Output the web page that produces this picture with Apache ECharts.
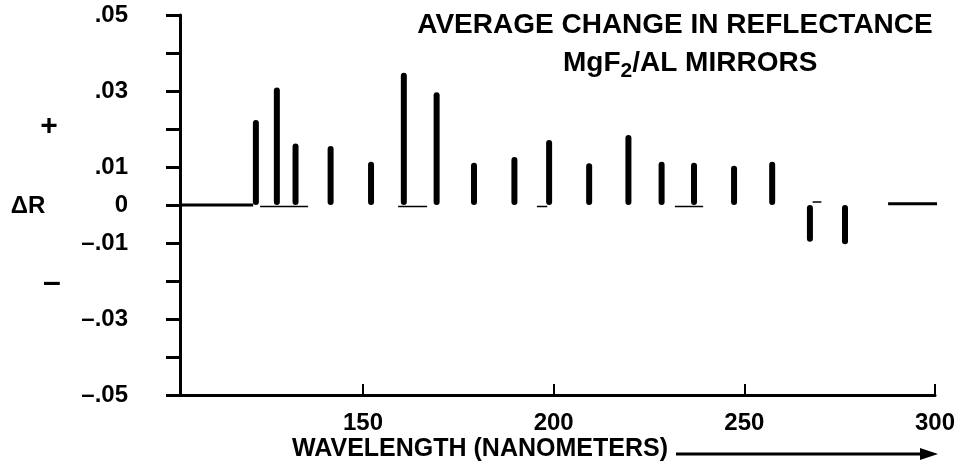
<!DOCTYPE html>
<html>
<head>
<meta charset="utf-8">
<script src="https://cdn.jsdelivr.net/npm/echarts@6/dist/echarts.min.js"></script>
<style>
  html, body { margin: 0; padding: 0; background: #fff; }
  #main { width: 962px; height: 475px; }
</style>
</head>
<body>
<div id="main"></div>
<script>
// wavelength (nm) of each bar and the average change in reflectance
const wavelength = [121.9, 127.4, 132.3, 141.5, 152.1, 160.7, 169.3, 179.1, 189.7, 198.8,
                    209.3, 219.6, 228.3, 236.8, 247.3, 257.3, 267.2, 276.4];
const deltaR = [0.0224, 0.0309, 0.0162, 0.0155, 0.0114, 0.0348, 0.0297, 0.0111, 0.0126, 0.0171,
                0.0110, 0.0184, 0.0114, 0.0111, 0.0103, 0.0114, -0.0097, -0.0103];

// flat parts of the trace (no change)
const flatX = [102, 121.2, null, 287.7, 301.3];
const flatY = [0, 0, null, 0.0003, 0.0003];

// faint dashes just under the zero line
const dashX = [123, 135.6, null, 159.2, 166.8, null, 195.6, 198.3, null, 231.8, 239.2, null, 267.9, 270.2];
const dashY = [-0.0004, -0.0004, null, -0.0004, -0.0004, null, -0.0004, -0.0004, null, -0.0004, -0.0004, null, 0.0008, 0.0008];

const xTicks = [150, 200, 250, 300];
const yTicks = [-0.05, -0.04, -0.03, -0.02, -0.01, 0, 0.01, 0.02, 0.03, 0.04, 0.05];
const yLabelVals = [0.05, 0.03, 0.01, 0, -0.01, -0.03, -0.05];
const yLabelText = ['.05', '.03', '.01', '0', '\u2013.01', '\u2013.03', '\u2013.05'];

const font = '"Liberation Sans", Arial, sans-serif';

const chart = echarts.init(document.getElementById('main'));

function pairs(xs, ys) {
  return xs.map((x, i) => (x === null ? [null, null] : [x, ys[i]]));
}

const option = {
  backgroundColor: '#fff',
  animation: false,
  grid: { left: 180, right: 27, top: 15, bottom: 80, outerBoundsMode: 'none' },
  xAxis: {
    type: 'value',
    min: 102,
    max: 300,
    splitLine: { show: false },
    axisLine: { onZero: false, lineStyle: { color: '#000', width: 3 } },
    axisTick: { inside: true, length: 11, customValues: xTicks, lineStyle: { color: '#000', width: 2 } },
    axisLabel: {
      customValues: xTicks,
      margin: 16,
      color: '#000',
      fontFamily: font,
      fontWeight: 'bold',
      fontSize: 24
    }
  },
  yAxis: {
    type: 'value',
    min: -0.05,
    max: 0.05,
    splitLine: { show: false },
    axisLine: { onZero: false, lineStyle: { color: '#000', width: 3 } },
    axisTick: { length: 14, customValues: yTicks, lineStyle: { color: '#000', width: 3 } },
    axisLabel: {
      customValues: yLabelVals,
      margin: 52,
      color: '#000',
      fontFamily: font,
      fontWeight: 'bold',
      fontSize: 24,
      formatter: function (v) {
        const i = yLabelVals.findIndex(t => Math.abs(t - v) < 1e-6);
        return i >= 0 ? yLabelText[i] : '';
      }
    }
  },
  series: [
    {
      type: 'bar',
      barWidth: 6,
      itemStyle: { color: '#000', borderRadius: 3 },
      data: pairs(wavelength, deltaR)
    },
    {
      type: 'line',
      symbol: 'none',
      clip: false,
      connectNulls: false,
      lineStyle: { color: '#000', width: 3 },
      data: pairs(flatX, flatY)
    },
    {
      type: 'line',
      symbol: 'none',
      connectNulls: false,
      lineStyle: { color: '#000', width: 1.5 },
      data: pairs(dashX, dashY)
    }
  ],
  graphic: [
    {
      type: 'text', x: 675, y: 25,
      style: {
        text: 'AVERAGE CHANGE IN REFLECTANCE',
        fill: '#000', font: 'bold 28px ' + font,
        textAlign: 'center', textVerticalAlign: 'middle'
      }
    },
    {
      type: 'text', x: 563, y: 49,
      style: {
        text: '{a|MgF}{s|2}{a|/AL MIRRORS}',
        fill: '#000',
        rich: {
          a: { fontFamily: font, fontWeight: 'bold', fontSize: 28, lineHeight: 32, verticalAlign: 'top', fill: '#000' },
          s: { fontFamily: font, fontWeight: 'bold', fontSize: 21, lineHeight: 22, verticalAlign: 'top', padding: [12, 0, 0, 0], fill: '#000' }
        }
      }
    },
    {
      type: 'text', x: 480, y: 449,
      style: {
        text: 'WAVELENGTH (NANOMETERS)',
        fill: '#000', font: 'bold 25px ' + font,
        textAlign: 'center', textVerticalAlign: 'middle'
      }
    },
    {
      type: 'text', x: 49, y: 127,
      style: { text: '+', fill: '#000', font: 'bold 30px ' + font, textAlign: 'center', textVerticalAlign: 'middle' }
    },
    {
      type: 'text', x: 28, y: 206,
      style: { text: '\u0394R', fill: '#000', font: 'bold 24px ' + font, textAlign: 'center', textVerticalAlign: 'middle' }
    },
    {
      type: 'text', x: 52, y: 283,
      style: { text: '\u2013', fill: '#000', font: 'bold 32px ' + font, textAlign: 'center', textVerticalAlign: 'middle' }
    },
    {
      type: 'line',
      shape: { x1: 676, y1: 454, x2: 925, y2: 454 },
      style: { stroke: '#000', lineWidth: 3 }
    },
    {
      type: 'polygon',
      shape: { points: [[920, 448], [938, 454], [920, 460]] },
      style: { fill: '#000' }
    }
  ]
};

chart.setOption(option);
</script>
</body>
</html>
